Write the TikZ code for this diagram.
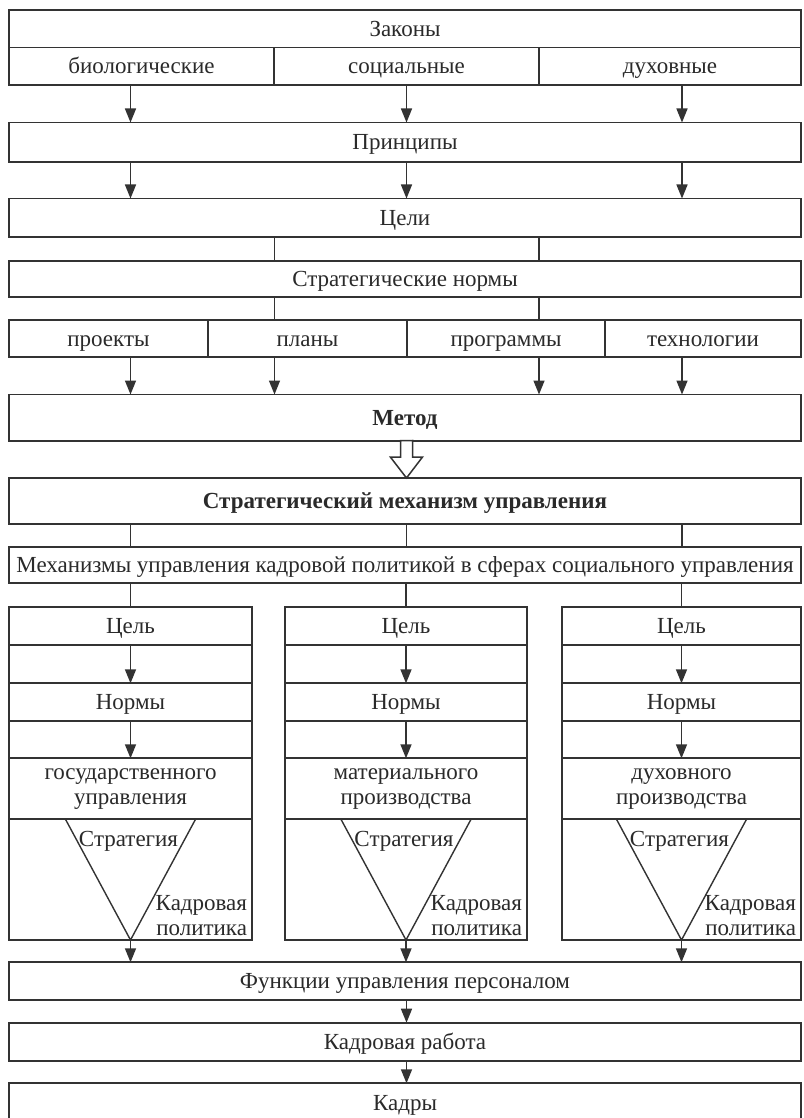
\documentclass[tikz,border=0pt]{standalone}
\usepackage{fontspec}
\setmainfont{Liberation Serif}
\usetikzlibrary{arrows.meta,calc}
\definecolor{ink}{HTML}{333333}
\definecolor{txt}{HTML}{2A2A2A}
\newcommand\Bx[7][]{\node[box,#1,minimum width={(#5-#3)*1pt},minimum height={(#6-#4)*1pt}] (#2) at ({(#3+#5)/2},{(#4+#6)/2}) {#7};}
\newcommand\Col[4]{%
  \Bx{goal#1}{#2}{607.3}{#3}{645}{Цель}
  \Bx{ea#1}{#2}{645}{#3}{683.3}{}
  \Bx{norm#1}{#2}{683.3}{#3}{720.7}{Нормы}
  \Bx{eb#1}{#2}{720.7}{#3}{758.3}{}
  \Bx[namebox]{sph#1}{#2}{758.3}{#3}{819.3}{#4}
  \Bx{tri#1}{#2}{819.3}{#3}{940}{}
  \draw[conn] (mech.south -| goal#1.north) -- (goal#1.north);
  \draw[arr] (goal#1.south) -- (norm#1.north);
  \draw[arr] (norm#1.south) -- (sph#1.north);
  \draw[triline] ($(tri#1.north)+(-65,0)$) -- (tri#1.south) -- ($(tri#1.north)+(65,0)$);
  \node[lbl, anchor=base] (str#1) at ($(tri#1.north)+(-2,27)$) {Стратегия};
  \node[lbl, anchor=base east] (kad#1) at ($(tri#1.south east)+(-5,-30)$) {Кадровая};
  \node[lbl, anchor=base east] (pol#1) at ($(tri#1.south east)+(-5,-5)$) {политика};
}
\begin{document}
\begin{tikzpicture}[x=1pt,y=-1pt,
  box/.style={draw=ink, line width=1.8pt, inner sep=0pt, outer sep=0pt, text=txt,
    font=\fontsize{23}{25}\selectfont, text height=15pt, text depth=0pt},
  bold/.style={font=\fontsize{23}{25}\selectfont\bfseries},
  namebox/.style={align=center, text height={}, text depth={}},
  lbl/.style={inner sep=0pt, outer sep=0pt, text=txt, font=\fontsize{23}{25}\selectfont},
  conn/.style={draw=ink, line width=1.5pt},
  arr/.style={draw=ink, line width=1.5pt, -{Triangle[length=14pt,width=11pt]}},
  triline/.style={draw=ink, line width=1.4pt},
  hollow/.style={draw=ink, line width=1.5pt, fill=white, line join=miter}]
\fill[white] (0,0) rectangle (803,1118);
\useasboundingbox (0,0) rectangle (803,1118);
\coordinate (cL) at (130.5,0);
\coordinate (cM) at (406.5,0);
\coordinate (cR) at (682,0);
\coordinate (dA) at (274.5,0);
\coordinate (dB) at (539,0);
\coordinate (pagebottom) at (0,1118);

\Bx{laws}{9}{10}{801}{47.5}{Законы}
\Bx{bio}{9}{47.5}{274}{85}{биологические}
\Bx{soc}{274}{47.5}{539}{85}{социальные}
\Bx{duh}{539}{47.5}{801}{85}{духовные}

\Bx{prin}{9}{122.5}{801}{162}{Принципы}
\draw[arr] (bio.south -| cL) -- (prin.north -| cL);
\draw[arr] (soc.south -| cM) -- (prin.north -| cM);
\draw[arr] (duh.south -| cR) -- (prin.north -| cR);

\Bx{celi}{9}{198.5}{801}{236.7}{Цели}
\draw[arr] (prin.south -| cL) -- (celi.north -| cL);
\draw[arr] (prin.south -| cM) -- (celi.north -| cM);
\draw[arr] (prin.south -| cR) -- (celi.north -| cR);

\Bx{snorm}{9}{260.7}{801}{297.3}{Стратегические нормы}
\draw[conn] (celi.south -| dA) -- (snorm.north -| dA);
\draw[conn] (celi.south -| dB) -- (snorm.north -| dB);

\Bx{proj}{9}{320}{208}{357.3}{проекты}
\Bx{plan}{208}{320}{407}{357.3}{планы}
\Bx{prog}{407}{320}{605}{357.3}{программы}
\Bx{tech}{605}{320}{801}{357.3}{технологии}
\draw[conn] (snorm.south -| dA) -- (plan.north -| dA);
\draw[conn] (snorm.south -| dB) -- (prog.north -| dB);

\Bx[bold]{metod}{9}{394.5}{801}{440.7}{Метод}
\draw[arr] (proj.south -| cL) -- (metod.north -| cL);
\draw[arr] (plan.south -| dA) -- (metod.north -| dA);
\draw[arr] (prog.south -| dB) -- (metod.north -| dB);
\draw[arr] (tech.south -| cR) -- (metod.north -| cR);

\Bx[bold]{smech}{9}{478}{801}{524}{Стратегический механизм управления}
\draw[hollow] ($(metod.south -| cM)+(-6,0)$) -- ++(0,16.5) -- ++(-10,0)
  -- (smech.north -| cM) -- ++(16,-21) -- ++(-10,0) -- ++(0,-16.5) -- cycle;

\Bx{mech}{9}{547}{801}{583.3}{Механизмы управления кадровой политикой в сферах социального управления}
\draw[conn] (smech.south -| cL) -- (mech.north -| cL);
\draw[conn] (smech.south -| cM) -- (mech.north -| cM);
\draw[conn] (smech.south -| cR) -- (mech.north -| cR);

\Col{L}{9}{252}{государственного\\управления}
\Col{M}{285}{527}{материального\\производства}
\Col{R}{562}{801}{духовного\\производства}

\Bx{funk}{9}{962.3}{801}{1000}{Функции управления персоналом}
\draw[arr] (triL.south) -- (funk.north -| triL.south);
\draw[arr] (triM.south) -- (funk.north -| triM.south);
\draw[arr] (triR.south) -- (funk.north -| triR.south);

\Bx{krab}{9}{1022.7}{801}{1060.7}{Кадровая работа}
\draw[arr] (funk.south -| cM) -- (krab.north -| cM);

\Bx[draw=none]{kadry}{9}{1083.3}{801}{1123}{Кадры}
\draw[draw=ink, line width=1.8pt] (kadry.west |- pagebottom) -- (kadry.north west) -- (kadry.north east) -- (kadry.east |- pagebottom);
\draw[arr] (krab.south -| cM) -- (kadry.north -| cM);
\end{tikzpicture}
\end{document}
